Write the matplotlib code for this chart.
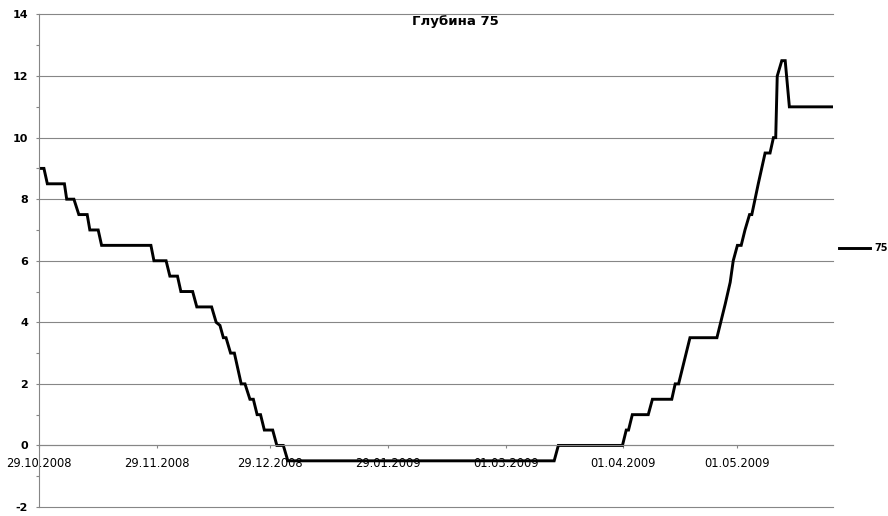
import datetime as dt
import numpy as np
import matplotlib
matplotlib.use("Agg")
import matplotlib.pyplot as plt


## --- DATA --- ##
start_date = dt.datetime(2008, 10, 29)

# days after 29.10.2008 where the line bends, and the depth there
day_offset = [0, 1.3, 2.2, 6.7, 7.3, 9.2, 10.5, 12.7, 13.4, 15.6, 16.5,
              29.5, 30.3, 33.5, 34.5, 36.5, 37.4, 40.5, 41.6, 45.5, 46.7,
              47.7, 48.6, 49.3, 50.5, 51.5, 53.3, 54.3, 55.6, 56.5, 57.5,
              58.4, 59.4, 61.6, 62.7, 64.4, 65.6, 135.8, 136.9, 153.8, 154.8,
              155.4, 156.4, 160.6, 161.7, 166.8, 167.7, 168.6, 171.6, 178.7,
              180.9, 182.2, 183.0, 184.1, 185.1, 186.1, 187.3, 187.9, 189.6,
              191.4, 192.7, 193.6, 194.2, 194.6, 195.8, 196.7, 197.8, 209.0]
depth = [9, 9, 8.5, 8.5, 8, 8, 7.5, 7.5, 7, 7, 6.5,
         6.5, 6, 6, 5.5, 5.5, 5, 5, 4.5, 4.5, 4,
         3.9, 3.5, 3.5, 3, 3, 2, 2, 1.5, 1.5, 1,
         1, 0.5, 0.5, 0, 0, -0.5, -0.5, 0, 0, 0.5,
         0.5, 1, 1, 1.5, 1.5, 2, 2, 3.5, 3.5,
         4.6, 5.3, 6, 6.5, 6.5, 7, 7.5, 7.5, 8.5,
         9.5, 9.5, 10, 10, 12, 12.5, 12.5, 11, 11]

tick_labels = ["29.10.2008", "29.11.2008", "29.12.2008", "29.01.2009",
               "01.03.2009", "01.04.2009", "01.05.2009"]
y_ticks = [-2, 0, 2, 4, 6, 8, 10, 12, 14]

series_name = "75"
title = "Глубина 75"


def main():
    plt.rcParams["axes.unicode_minus"] = False
    grid_col = "#868686"

    fig = plt.figure(figsize=(8.88, 5.16), dpi=100)
    ax = fig.add_axes([39 / 888, 9 / 516, 794 / 888, 492.5 / 516])

    dates = [start_date + dt.timedelta(days=d) for d in day_offset]
    ax.plot(dates, depth, color="black", lw=2.1, solid_joinstyle="miter",
            label=series_name)

    # axes limits
    ax.set_ylim(-2, 14)
    ax.set_xlim(start_date, start_date + dt.timedelta(days=209.3))

    # y axis
    ax.set_yticks(y_ticks)
    ax.set_yticks(np.arange(-1, 14, 2), minor=True)
    ax.tick_params(axis="y", which="both", direction="out", length=2.5,
                   width=0.8, color=grid_col, pad=5.3, labelsize=8)
    for lab in ax.get_yticklabels():
        lab.set_fontweight("bold")
    ax.grid(axis="y", color=grid_col, lw=0.8)
    for gl in ax.yaxis.get_gridlines():
        gl.set_clip_on(False)

    # x axis crosses at 0
    tick_dates = [dt.datetime.strptime(s, "%d.%m.%Y") for s in tick_labels]
    ax.set_xticks(tick_dates)
    ax.set_xticklabels(tick_labels)
    ax.tick_params(axis="x", direction="out", length=2.5, width=0.8,
                   color=grid_col, pad=6, labelsize=8.3)
    ax.spines["bottom"].set_position(("data", 0))

    for s in ["top", "right"]:
        ax.spines[s].set_visible(False)
    ax.spines["left"].set_color(grid_col)
    ax.spines["bottom"].set_color(grid_col)
    ax.spines["left"].set_linewidth(0.8)
    ax.spines["bottom"].set_linewidth(0.8)

    fig.text(455 / 888, (516 - 22) / 516, title, ha="center", va="center",
             fontsize=9.5, fontweight="bold")

    fig.legend(loc="center left", bbox_to_anchor=(839 / 888, (516 - 248) / 516),
               frameon=False, handlelength=3.2, handletextpad=0.4,
               borderpad=0, borderaxespad=0, prop={"size": 7, "weight": "bold"})

    fig.savefig("out.png", dpi=100)


if __name__ == "__main__":
    main()
